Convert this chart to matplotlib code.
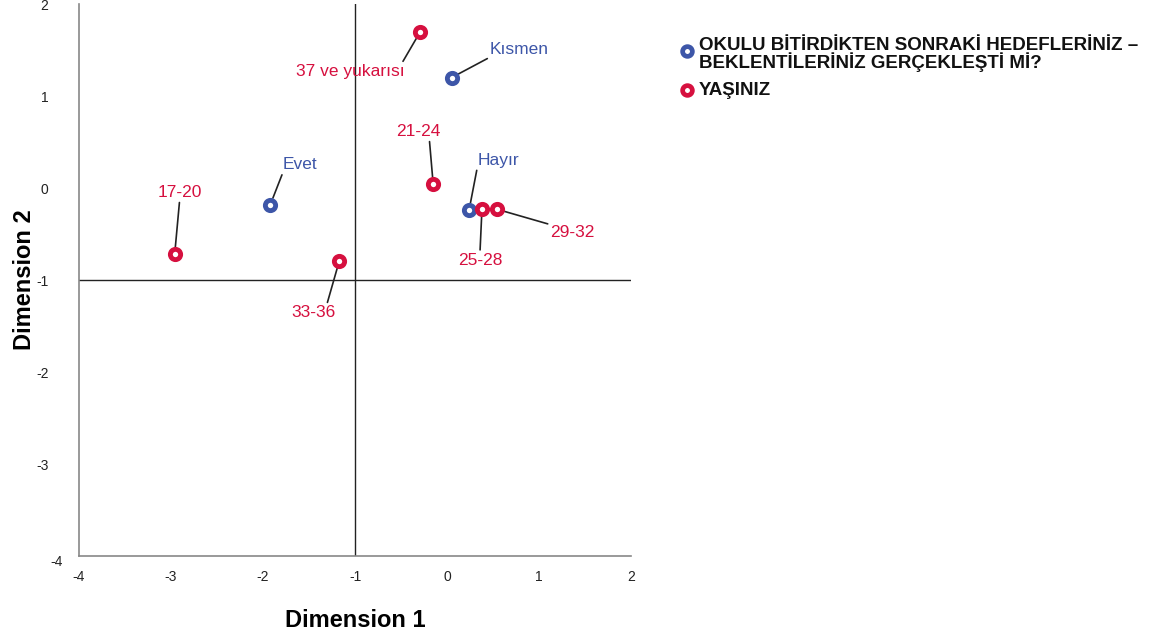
import matplotlib
matplotlib.use("Agg")
import matplotlib.pyplot as plt
import matplotlib.transforms as mtransforms
from matplotlib.lines import Line2D

plt.rcParams['font.family'] = ['Liberation Sans', 'DejaVu Sans']
plt.rcParams['axes.unicode_minus'] = False

# category points (Dimension 1, Dimension 2)
goal_labels = ['Kısmen', 'Evet', 'Hayır']
goal_dim1 = [0.05, -1.92, 0.24]
goal_dim2 = [1.20, -0.18, -0.24]

age_labels = ['37 ve yukarısı', '21-24', '17-20', '33-36', '25-28', '29-32']
age_dim1 = [-0.29, -0.15, -2.96, -1.17, 0.38, 0.54]
age_dim2 = [1.70, 0.04, -0.72, -0.79, -0.23, -0.23]

legend_names = ['OKULU BİTİRDİKTEN SONRAKİ HEDEFLERİNİZ –\nBEKLENTİLERİNİZ GERÇEKLEŞTİ Mİ?',
                'YAŞINIZ']
xticks = [-4, -3, -2, -1, 0, 1, 2]
yticks = [-4, -3, -2, -1, 0, 1, 2]

blue = '#3d56a8'
red = '#d6103f'

# label offsets in pixels and where the leader line leaves the text (layout only)
goal_off = [(68, 28), (30, 40), (29, 50)]
goal_rel = [(0, 0), (0, 0), (0, 0)]
age_off = [(-70, -40), (-15, 53), (5, 62), (-26, -52), (-2, -51), (76, -23)]
age_rel = [(0.97, 1), (0.75, 0), (0.5, 0), (0.8, 1), (0.5, 1), (0, 1)]

fig = plt.figure(figsize=(11.65, 6.37), dpi=100)
ax = fig.add_axes([79 / 1165, 1 - 556 / 637, 552 / 1165, 552 / 637])

ax.axvline(-1, color='#222222', lw=1, zorder=1)
ax.axhline(-1, color='#222222', lw=1, zorder=1)

ring = dict(marker='o', ms=7.4, mew=3.5, mfc='white', ls='none', zorder=5)
ax.plot(goal_dim1, goal_dim2, mec=blue, **ring)
ax.plot(age_dim1, age_dim2, mec=red, **ring)


def label_points(names, xs, ys, offs, rels, color):
    for name, x, y, (dx, dy), rel in zip(names, xs, ys, offs, rels):
        ax.annotate(name, (x, y), xytext=(dx, dy), textcoords='offset pixels',
                    ha='center', va='center', color=color, fontsize=12.5,
                    arrowprops=dict(arrowstyle='-', color='#222222', lw=1.2,
                                    shrinkA=0, shrinkB=5, relpos=rel), zorder=4)


label_points(goal_labels, goal_dim1, goal_dim2, goal_off, goal_rel, blue)
label_points(age_labels, age_dim1, age_dim2, age_off, age_rel, red)

ax.set_xlim(-4, 2)
ax.set_ylim(-4, 2)
ax.set_xticks(xticks)
ax.set_yticks(yticks)
ax.tick_params(length=0, labelsize=10, colors='#222222')
ax.tick_params(axis='y', pad=22)
ax.tick_params(axis='x', pad=10)
for s in ['top', 'right']:
    ax.spines[s].set_visible(False)
for s in ['left', 'bottom']:
    ax.spines[s].set_color('#888888')
    ax.spines[s].set_linewidth(1.2)

# the -4 label on the y axis sits lower and further right in the original
lab = ax.get_yticklabels()[0]
lab.set_transform(lab.get_transform() + mtransforms.Affine2D().translate(14, -5))

ax.set_xlabel('Dimension 1', fontsize=17, fontweight='bold', labelpad=18)
ax.set_ylabel('Dimension 2', fontsize=17, fontweight='bold', labelpad=0)

# legend drawn by hand so the marker lines up with the first text line
W, H = 1165, 637
for name, col, ypx, top in zip(legend_names, [blue, red], [51, 90], [37, 82]):
    fig.add_artist(Line2D([687 / W], [1 - ypx / H], transform=fig.transFigure,
                          marker='o', ms=7, mew=3.4, mfc='white', mec=col))
    fig.text(699 / W, 1 - top / H, name, ha='left', va='top',
             fontsize=13.5, fontweight='bold', color='#111111', linespacing=0.86)

fig.savefig('out.png', dpi=100)
